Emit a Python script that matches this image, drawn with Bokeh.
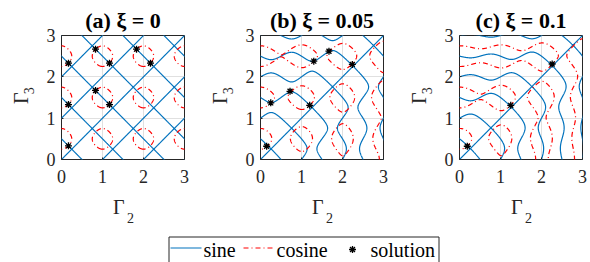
import numpy as np
import contourpy
from bokeh.plotting import figure
from bokeh.layouts import row, column
from bokeh.models import Range1d, FixedTicker, Title
from bokeh.core.properties import value
from bokeh.embed import file_html
from bokeh.resources import INLINE

# ---------------- data ----------------
panel_titles = ["(a) ξ = 0", "(b) ξ = 0.05", "(c) ξ = 0.1"]
xi_values = [0.0, 0.05, 0.1]
# unity-magnitude shaper: impulses +1, -1, +1 at times 0, Gamma2, Gamma3 (in periods)
shaper_amplitudes = [1.0, -1.0, 1.0]
ticks = [0, 1, 2, 3]
tick_labels = ["0", "1", "2", "3"]
x_label = ("Γ", "2")
y_label = ("Γ", "3")

sol_gamma2 = [
    [0.17, 0.17, 0.17, 0.83, 1.17, 0.83, 1.17, 1.83, 2.17],
    [0.15, 0.25, 0.72, 1.20, 1.30, 1.67, 2.24],
    [0.19, 1.25, 2.26],
]
sol_gamma3 = [
    [0.33, 1.33, 2.33, 1.67, 1.33, 2.67, 2.33, 2.67, 2.33],
    [0.32, 1.37, 1.65, 1.31, 2.38, 2.62, 2.30],
    [0.32, 1.31, 2.31],
]
legend_labels = ["sine", "cosine", "solution"]

# ---------------- style / layout ----------------
SINE_COLOR = "#0072BD"
COS_COLOR = "#FF0000"
AX_COLOR = "#262626"
GRID_COLOR = "#E0E0E0"
FONT = "Liberation Serif"
COS_DASH = "5 3 1 3"
W, H = 590, 262
ROW_H = 194
BOT_H = H - ROW_H
FRAME_W, FRAME_H, FRAME_TOP = 123, 124, 35
frame_left = [61, 260, 459]
ylab_w = [40, 33, 33]
panel_lb = [21, 20, 20]
panel_rb = [23, 23, 8]
BASE_FIX = 0.32   # baseline correction (fraction of font size) for glyph text


def strip(width, height):
    f = figure(width=width, height=height, x_range=Range1d(0, width),
               y_range=Range1d(0, height), x_axis_type=None, y_axis_type=None,
               output_backend="svg", toolbar_location=None, min_border=0)
    f.grid.visible = False
    f.outline_line_color = None
    f.background_fill_color = "white"
    f.border_fill_color = "white"
    return f


def residual_curves(xi):
    g = np.linspace(-0.03, 3.03, 613)
    step = g[1] - g[0]
    X, Y = np.meshgrid(g, g + 0.37 * step)
    k = 2 * np.pi * xi / np.sqrt(1 - xi ** 2)
    a1, a2, a3 = shaper_amplitudes
    ex, ey = np.exp(k * X), np.exp(k * Y)
    S = a2 * ex * np.sin(2 * np.pi * X) + a3 * ey * np.sin(2 * np.pi * Y)
    C = a1 + a2 * ex * np.cos(2 * np.pi * X) + a3 * ey * np.cos(2 * np.pi * Y)
    out = []
    for Z in (S, C):
        lines = contourpy.contour_generator(X, Y, Z, line_type="Separate").lines(0.0)
        out.append(([l[:, 0] for l in lines], [l[:, 1] for l in lines]))
    return out


def make_panel(i):
    p = figure(width=panel_lb[i] + FRAME_W + panel_rb[i], height=ROW_H,
               x_range=Range1d(0, 3), y_range=Range1d(0, 3),
               output_backend="svg", toolbar_location=None,
               min_border_left=panel_lb[i], min_border_right=panel_rb[i],
               min_border_top=FRAME_TOP,
               min_border_bottom=ROW_H - FRAME_TOP - FRAME_H)
    p.background_fill_color = "white"
    p.border_fill_color = "white"
    p.outline_line_color = AX_COLOR
    p.outline_line_width = 1
    p.outline_line_alpha = 1.0
    p.add_layout(Title(text=panel_titles[i], align="center", text_font=FONT,
                       text_font_size="22px", text_font_style="bold",
                       text_color="black", standoff=6), "above")
    for ax in (p.xaxis[0], p.yaxis[0]):
        ax.ticker = FixedTicker(ticks=ticks)
        ax.major_label_overrides = {t_: s for t_, s in zip(ticks, tick_labels)}
        ax.axis_line_color = None
        ax.major_tick_in = 2
        ax.major_tick_out = 0
        ax.major_tick_line_color = AX_COLOR
        ax.minor_tick_line_color = None
        ax.major_label_text_font = FONT
        ax.major_label_text_font_size = "18px"
        ax.major_label_text_color = AX_COLOR
    p.xaxis.major_label_standoff = 10
    p.yaxis.major_label_standoff = 6
    p.grid.grid_line_color = GRID_COLOR
    p.grid.grid_line_width = 1

    (sx, sy), (cx, cy) = residual_curves(xi_values[i])
    p.multi_line(sx, sy, line_color=SINE_COLOR, line_width=1.2)
    p.multi_line(cx, cy, line_color=COS_COLOR, line_width=1.2, line_dash=COS_DASH)
    p.scatter(sol_gamma2[i], sol_gamma3[i], marker="asterisk", size=7,
              line_color="black", line_width=1.3)
    return p


def make_ylab(i):
    f = strip(ylab_w[i], ROW_H)
    left = sum(ylab_w[:i]) + sum(panel_lb[j] + FRAME_W + panel_rb[j] for j in range(i))
    dx = frame_left[i] - 61 - left
    # rotated "Γ" and subscript "3" (page positions relative to panel (a))
    f.text(x=[27 - BASE_FIX * 20 + dx], y=[ROW_H - 107], text=[y_label[0]],
           angle=np.pi / 2, text_font=value(FONT), text_font_size="20px",
           text_align="left", text_baseline="alphabetic", text_color=AX_COLOR)
    f.text(x=[33 - BASE_FIX * 14 + dx], y=[ROW_H - 92], text=[y_label[1]],
           angle=np.pi / 2, text_font=value(FONT), text_font_size="14px",
           text_align="left", text_baseline="alphabetic", text_color=AX_COLOR)
    return f


# ---------------- bottom strip: x labels + legend ----------------
bot = strip(W, BOT_H)
for i in range(3):
    bot.text(x=[frame_left[i] + 51.5], y=[H - 213 + BASE_FIX * 20], text=[x_label[0]],
             text_font=value(FONT), text_font_size="20px", text_align="left",
             text_baseline="alphabetic", text_color=AX_COLOR)
    bot.text(x=[frame_left[i] + 65.5], y=[H - 222 + BASE_FIX * 14], text=[x_label[1]],
             text_font=value(FONT), text_font_size="14px", text_align="left",
             text_baseline="alphabetic", text_color=AX_COLOR)

bot.quad(left=[168.5], right=[438.5], bottom=[-5], top=[H - 236.5],
         fill_color="white", line_color=AX_COLOR, line_width=1)
bot.segment(x0=[170], y0=[H - 247.5], x1=[201], y1=[H - 247.5],
            line_color=SINE_COLOR, line_width=1.2)
bot.segment(x0=[243], y0=[H - 247.5], x1=[274], y1=[H - 247.5],
            line_color=COS_COLOR, line_width=1.2, line_dash=COS_DASH)
bot.scatter([352], [H - 249], marker="asterisk", size=7, line_color="black",
            line_width=1.3)
bot.text(x=[203, 276, 370], y=[H - 255.5 + BASE_FIX * 20] * 3, text=legend_labels,
         text_font=value(FONT), text_font_size="20px", text_baseline="alphabetic",
         text_color="black")

panels = [make_panel(i) for i in range(3)]
ylabs = [make_ylab(i) for i in range(3)]
mid = row(ylabs[0], panels[0], ylabs[1], panels[1], ylabs[2], panels[2])
layout = column(mid, bot)
open("out.html", "w").write(file_html(layout, INLINE))
